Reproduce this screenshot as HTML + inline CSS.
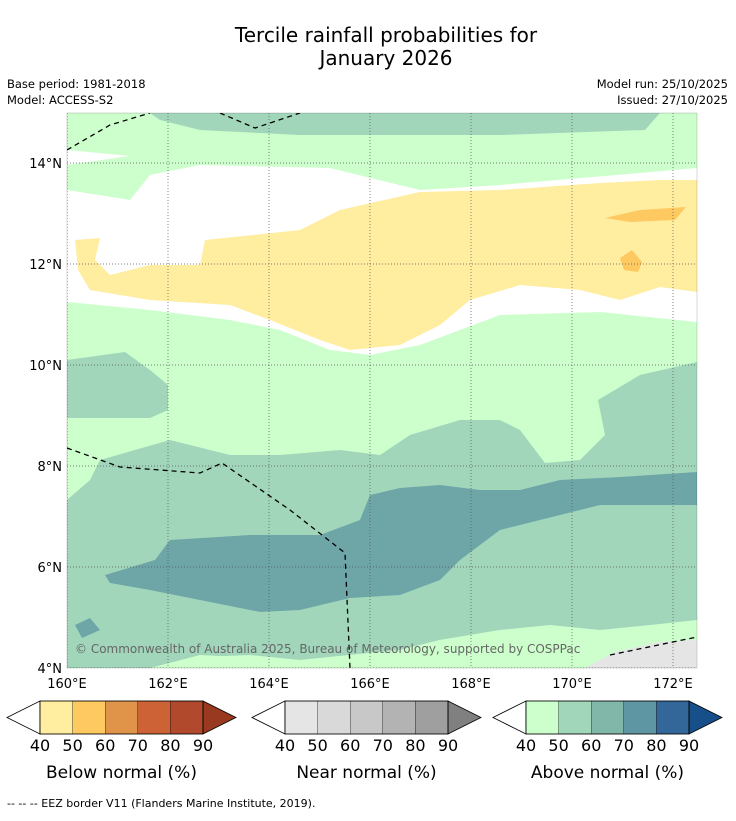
<!DOCTYPE html>
<html><head><meta charset="utf-8">
<style>
body{margin:0;background:#fff;width:736px;height:816px;overflow:hidden;font-family:"Liberation Sans","DejaVu Sans",sans-serif;}
svg text{font-family:"DejaVu Sans","Liberation Sans",sans-serif;}
</style></head>
<body>
<svg id="chart" width="736" height="816" viewBox="0 0 736 816" xmlns="http://www.w3.org/2000/svg">
<text x="386" y="42" font-size="20" text-anchor="middle">Tercile rainfall probabilities for</text>
<text x="386" y="65" font-size="20" text-anchor="middle">January 2026</text>
<text x="7" y="88" font-size="11.5">Base period: 1981-2018</text>
<text x="7" y="104" font-size="11.5">Model: ACCESS-S2</text>
<text x="728" y="88" font-size="11.5" text-anchor="end">Model run: 25/10/2025</text>
<text x="728" y="104" font-size="11.5" text-anchor="end">Issued: 27/10/2025</text>

<defs><clipPath id="mapclip"><rect x="67" y="113" width="630" height="555"/></clipPath></defs>
<g clip-path="url(#mapclip)">
<rect x="67" y="113" width="630" height="555" fill="#ccffcc"/>
<polygon fill="#ffffff" points="67,190 130,200 150,175 200,165 330,168 420,190 500,185 697,168 697,322 600,312 500,315 460,330 420,345 370,355 330,350 280,330 230,320 150,310 67,302"/>
<polygon fill="#ffffff" points="67,150 130,156 67,165"/>
<polygon fill="#ffeda0" points="75,240 100,238 95,260 110,275 150,265 200,265 205,240 300,230 340,210 420,192 500,190 600,183 660,180 697,180 697,292 660,287 620,300 580,290 520,285 470,300 440,325 400,345 350,350 320,340 270,320 230,305 150,300 90,290 78,270"/>
<polygon fill="#fec960" points="605,218 640,210 686,207 675,220 630,222"/>
<polygon fill="#fec960" points="620,258 632,250 642,262 638,272 624,270"/>
<polygon fill="#a1d6bb" points="150,113 660,113 645,130 500,135 300,135 200,130 160,120"/>
<polygon fill="#a1d6bb" points="67,360 125,352 150,370 168,385 168,410 150,418 67,418"/>
<polygon fill="#a1d6bb" points="67,500 90,480 100,460 170,440 230,455 280,455 340,450 380,455 410,435 460,420 500,420 520,430 545,463 580,460 605,435 598,400 640,375 697,362 697,625 600,630 550,625 500,630 440,640 400,650 300,660 250,655 200,657 150,668 67,668"/>
<polygon fill="#6ea6a8" points="105,575 155,560 170,540 250,535 320,535 360,520 370,495 400,488 440,485 480,490 520,490 560,480 620,477 697,472 697,505 600,505 540,520 500,530 460,560 440,580 400,595 350,598 300,610 260,612 200,600 150,590 110,583"/>
<polygon fill="#6ea6a8" points="75,625 90,618 100,630 82,638"/>
<polygon fill="#ccffcc" points="150,668 200,655 300,660 400,650 440,640 500,630 600,630 650,625 697,620 697,668"/>
<polygon fill="#e5e5e5" points="585,668 615,652 660,642 697,640 697,668"/>
<g stroke="#555" stroke-width="0.7" stroke-dasharray="1,2" fill="none" id="grid"></g>
<g stroke="#000" stroke-width="1.3" stroke-dasharray="5,4" fill="none">
<polyline points="67,150 110,125 150,113"/>
<polyline points="220,113 255,128 300,113"/>
<polyline points="67,448 120,467 200,473 222,463 290,510 345,553 350,668"/>
<polyline points="610,655 697,637"/>
</g>
<text x="75" y="653" font-size="12" fill="#666">© Commonwealth of Australia 2025, Bureau of Meteorology, supported by COSPPac</text>
</g>
<rect x="67" y="113" width="630" height="555" fill="none" stroke="#000" stroke-width="0.5" stroke-opacity="0.3"/>
<g id="axes"></g>
<g id="bars"></g>
<text x="7" y="807" font-size="11">--  --  -- EEZ border V11 (Flanders Marine Institute, 2019).</text>
</svg>
<script>
const lonTicks=[160,162,164,166,168,170,172];
const latTicks=[4,6,8,10,12,14];
const tickLabels=[40,50,60,70,80,90];
const belowColors=["#ffeda0","#fec960","#e0944a","#cc6235","#b14a2c","#99391f"];
const nearColors=["#e5e5e5","#d9d9d9","#c8c8c8","#b3b3b3","#9f9f9f","#808080"];
const aboveColors=["#ccffcc","#a1d6bb","#81b7a9","#5e97a3","#336699","#174f8a"];
const barTitles=["Below normal (%)","Near normal (%)","Above normal (%)"];
const NS="http://www.w3.org/2000/svg";
const xOf=lon=>67+(lon-160)*50.5;
const yOf=lat=>668-(lat-4)*50.5;
function mk(tag,attrs,parent){const e=document.createElementNS(NS,tag);for(const k in attrs)e.setAttribute(k,attrs[k]);parent.appendChild(e);return e;}
const grid=document.getElementById('grid'),axes=document.getElementById('axes');
lonTicks.forEach(l=>{const l1=mk('line',{x1:xOf(l),x2:xOf(l),y1:113,y2:668},grid);


const t=mk('text',{x:xOf(l),y:688,'font-size':13,'text-anchor':'middle'},axes);t.textContent=l+'°E';

});
latTicks.forEach(l=>{const l1=mk('line',{x1:67,x2:697,y1:yOf(l),y2:yOf(l)},grid);


const t=mk('text',{x:62,y:yOf(l)+5,'font-size':13,'text-anchor':'end'},axes);t.textContent=l+'°N';

});
const bars=document.getElementById('bars');
const bx=[7,252,493];const sets=[belowColors,nearColors,aboveColors];
sets.forEach((cols,i)=>{const x0=bx[i],w=32.6,y0=701,h=33;const g=mk('g',{},bars);


mk('polygon',{points:`${x0},${y0+h/2} ${x0+33},${y0} ${x0+33},${y0+h}`,fill:'#fff',stroke:'#000','stroke-width':0.8},g);
for(let k=0;k<5;k++)mk('rect',{x:x0+33+k*w,y:y0,width:w,height:h,fill:cols[k],stroke:'#000','stroke-width':0.3},g);
const xe=x0+33+5*w;
mk('polygon',{points:`${xe},${y0} ${xe+33},${y0+h/2} ${xe},${y0+h}`,fill:cols[5],stroke:'#000','stroke-width':0.8},g);
mk('rect',{x:x0+33,y:y0,width:5*w,height:h,fill:'none',stroke:'#000','stroke-width':0.8},g);
tickLabels.forEach((v,k)=>{const t=mk('text',{x:x0+33+k*w,y:751,'font-size':16,'text-anchor':'middle'},g);t.textContent=v;

});
const tt=mk('text',{x:x0+33+2.5*w,y:778,'font-size':17,'text-anchor':'middle'},g);tt.textContent=barTitles[i];


});
</script>
</body></html>
